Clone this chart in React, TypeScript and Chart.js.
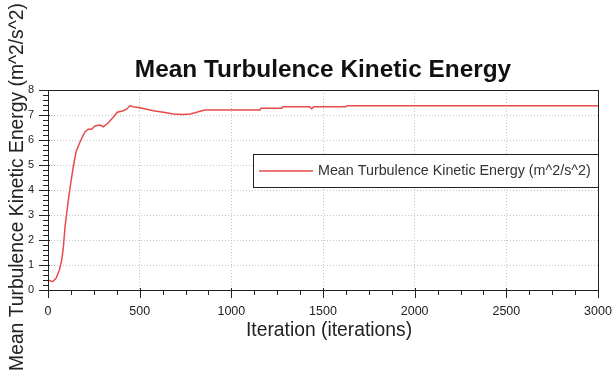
import React, { useEffect, useRef } from "react";
import { Chart, registerables } from "chart.js";

Chart.register(...registerables);

const TITLE = "Mean Turbulence Kinetic Energy";
const SERIES_LABEL = "Mean Turbulence Kinetic Energy (m^2/s^2)";
const X_TITLE = "Iteration (iterations)";
const Y_TITLE = "Mean Turbulence Kinetic Energy (m^2/s^2)";

const iterations = [
  0, 25, 44, 62, 75, 84, 93, 102, 111, 124, 138, 153, 175, 202, 220, 238, 256,
  284, 302, 329, 356, 378, 411, 429, 447, 466, 502, 538, 575, 611, 647, 684,
  738, 775, 802, 829, 856, 1156, 1162, 1275, 1282, 1425, 1438, 1450, 1625,
  1632, 2000, 2500, 3000,
];
const tke = [
  0.4, 0.33, 0.47, 0.8, 1.2, 1.73, 2.53, 3.07, 3.6, 4.27, 4.93, 5.53, 5.93,
  6.33, 6.43, 6.43, 6.56, 6.6, 6.53, 6.69, 6.91, 7.11, 7.17, 7.23, 7.37, 7.33,
  7.29, 7.23, 7.17, 7.13, 7.09, 7.04, 7.02, 7.04, 7.09, 7.15, 7.2, 7.2, 7.27,
  7.27, 7.33, 7.33, 7.25, 7.33, 7.33, 7.37, 7.37, 7.37, 7.37,
];

const xMin = 0;
const xMax = 3000;
const xStep = 500;
const xMinorStep = 125;
const yMin = 0;
const yMax = 8;
const yStep = 1;
const yMinorStep = 0.2;

const FONT = "'Liberation Sans', Arial, sans-serif";
const LINE_COLOR = "#e84a4a";

const decorPlugin = {
  id: "decor",
  afterDraw(chart: any) {
    const { ctx, chartArea } = chart;
    const { left, right, top, bottom } = chartArea;
    const xs = chart.scales.x;
    const ys = chart.scales.y;
    ctx.save();

    // frame
    ctx.strokeStyle = "#222";
    ctx.lineWidth = 1;
    ctx.setLineDash([]);
    ctx.strokeRect(Math.round(left) + 0.5, Math.round(top) + 0.5, Math.round(right - left), Math.round(bottom - top));

    // y ticks
    ctx.beginPath();
    for (let v = yMin; v <= yMax + 1e-9; v += yMinorStep) {
      const y = Math.round(ys.getPixelForValue(v)) + 0.5;
      const isMajor = Math.abs(v / yStep - Math.round(v / yStep)) < 1e-6;
      const len = isMajor ? 9 : 5;
      ctx.moveTo(left - len, y);
      ctx.lineTo(left + (isMajor ? 2 : 0), y);
    }
    // x ticks
    for (let v = xMin; v <= xMax + 1e-9; v += xMinorStep) {
      const x = Math.round(xs.getPixelForValue(v)) + 0.5;
      const isMajor = Math.abs(v / xStep - Math.round(v / xStep)) < 1e-6;
      const len = isMajor ? 8 : 5;
      ctx.moveTo(x, bottom - (isMajor ? 2 : 0));
      ctx.lineTo(x, bottom + len);
    }
    ctx.stroke();

    // title
    ctx.fillStyle = "#111";
    ctx.textAlign = "center";
    ctx.textBaseline = "alphabetic";
    ctx.font = `bold 24.4px ${FONT}`;
    ctx.fillText(TITLE, (left + right) / 2, 77);

    // x title
    ctx.fillStyle = "#222";
    ctx.font = `19.3px ${FONT}`;
    ctx.fillText(X_TITLE, 329, 336);

    // y title
    ctx.save();
    ctx.translate(23, 187);
    ctx.rotate(-Math.PI / 2);
    ctx.textAlign = "center";
    ctx.textBaseline = "alphabetic";
    ctx.font = `19.3px ${FONT}`;
    ctx.fillText(Y_TITLE, 0, 0);
    ctx.restore();

    // legend
    const lx = 253, ly = 154, lw = Math.round(right) - 253, lh = 33;
    ctx.fillStyle = "#fff";
    ctx.fillRect(lx, ly, lw, lh);
    ctx.strokeStyle = "#222";
    ctx.lineWidth = 1;
    ctx.strokeRect(lx + 0.5, ly + 0.5, lw, lh);
    const ds = chart.data.datasets[0];
    ctx.strokeStyle = ds.borderColor;
    ctx.lineWidth = 1.5;
    ctx.beginPath();
    ctx.moveTo(259, 171);
    ctx.lineTo(313, 171);
    ctx.stroke();
    ctx.fillStyle = "#333";
    ctx.font = `14.3px ${FONT}`;
    ctx.textAlign = "left";
    ctx.textBaseline = "middle";
    ctx.fillText(ds.label, 318, 171);

    ctx.restore();
  },
};

export default function App() {
  const ref = useRef<HTMLCanvasElement | null>(null);

  useEffect(() => {
    document.body.style.margin = "0";
    const canvas = ref.current;
    if (!canvas) return;
    const points = iterations.map((x, i) => ({ x, y: tke[i] }));
    const chart = new Chart(canvas, {
      type: "scatter",
      data: {
        datasets: [
          {
            label: SERIES_LABEL,
            data: points,
            showLine: true,
            borderColor: LINE_COLOR,
            backgroundColor: LINE_COLOR,
            borderWidth: 1.5,
            pointRadius: 0,
            tension: 0,
          },
        ],
      },
      options: {
        animation: false,
        responsive: false,
        devicePixelRatio: 1,
        layout: { padding: { top: 90, right: 16, bottom: 0, left: 0 } },
        plugins: {
          legend: { display: false },
          title: { display: false },
          tooltip: { enabled: false },
        },
        scales: {
          x: {
            type: "linear",
            min: xMin,
            max: xMax,
            afterFit: (s: any) => {
              s.height = 84;
              s.paddingLeft = 0;
              s.paddingRight = 0;
            },
            ticks: {
              stepSize: xStep,
              padding: 14,
              color: "#222",
              font: { family: FONT, size: 12.5 },
              maxRotation: 0,
              callback: (v: any) => String(v),
            },
            grid: {
              drawTicks: false,
              color: "#c4c4c4",
              lineWidth: 1,
            },
            border: { display: false, dash: [1, 2] },
          },
          y: {
            type: "linear",
            min: yMin,
            max: yMax,
            afterFit: (s: any) => {
              s.width = 48;
              s.paddingTop = 0;
              s.paddingBottom = 0;
            },
            ticks: {
              stepSize: yStep,
              padding: 14,
              color: "#222",
              font: { family: FONT, size: 11 },
              callback: (v: any) => String(v),
            },
            grid: {
              drawTicks: false,
              color: "#c4c4c4",
              lineWidth: 1,
            },
            border: { display: false, dash: [1, 2] },
          },
        },
      },
      plugins: [decorPlugin],
    });
    return () => chart.destroy();
  }, []);

  return (
    <div style={{ position: "fixed", left: 0, top: 0, width: 614, height: 374, background: "#fff" }}>
      <canvas ref={ref} width={614} height={374} />
    </div>
  );
}
